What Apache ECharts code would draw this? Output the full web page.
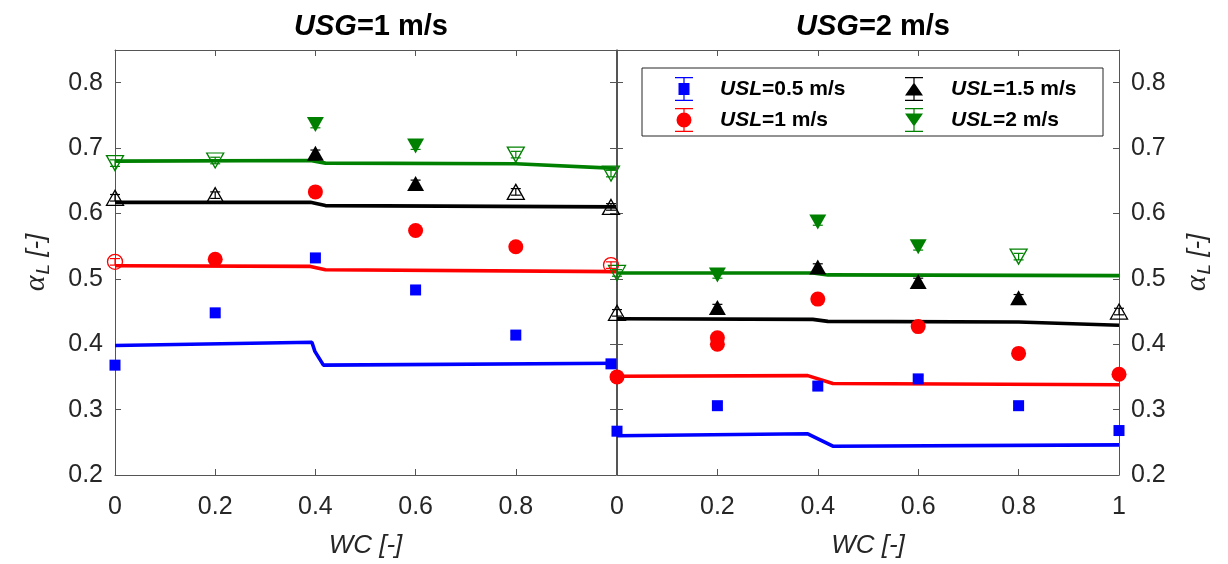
<!DOCTYPE html>
<html>
<head>
<meta charset="utf-8">
<script src="https://cdn.jsdelivr.net/npm/echarts@6/dist/echarts.min.js"></script>
<style>
  html, body { margin: 0; padding: 0; background: #fff; }
  #chart { width: 1228px; height: 564px; }
</style>
</head>
<body>
<div id="chart"></div>
<script>
// Liquid holdup alpha_L versus water cut WC, two superficial gas velocities.

// Measured water cuts (left panel: last run at WC = 0.99)
const WC_G1 = [0, 0.2, 0.4, 0.6, 0.8, 0.99];
const WC_G2 = [0, 0.2, 0.4, 0.6, 0.8, 1];

// USG = 1 m/s, measured holdup
const g1_usl05 = [0.368, 0.448, 0.532, 0.483, 0.414, 0.370];
const g1_usl1  = [0.526, 0.530, 0.633, 0.574, 0.549, 0.521];
const g1_usl15 = [0.624, 0.628, 0.692, 0.646, 0.633, 0.610];
const g1_usl2  = [0.677, 0.681, 0.736, 0.703, 0.690, 0.661];
// open markers (1 = open symbol)
const g1_open05 = [0, 0, 0, 0, 0, 0];
const g1_open1  = [1, 0, 0, 0, 0, 1];
const g1_open15 = [1, 1, 0, 0, 1, 1];
const g1_open2  = [1, 1, 0, 0, 1, 1];

// USG = 2 m/s, measured holdup
const g2_usl05 = [0.267, 0.306, 0.336, 0.347, 0.306, 0.268];
const g2_usl1  = [0.350, 0.410, 0.469, 0.427, 0.386, 0.354];
const g2_usl15 = [0.448, 0.456, 0.518, 0.496, 0.471, 0.450];
const g2_usl2  = [0.509, 0.506, 0.587, 0.549, 0.534, null];
const g2_open05 = [0, 0, 0, 0, 0, 0];
const g2_open1  = [0, 0, 0, 0, 0, 0];
const g2_open15 = [1, 0, 0, 0, 0, 1];
const g2_open2  = [1, 0, 0, 0, 1, 0];
// repeated run at USL = 1 m/s, WC = 0.2
const g2_usl1_repeatWC = [0.2];
const g2_usl1_repeat   = [0.400];

// Half-width of the error bars
const ERR = 0.005;

// Model predictions [WC, alpha_L]
const m1_usl05 = [[0, 0.398], [0.393, 0.403], [0.399, 0.389], [0.416, 0.368], [1, 0.371]];
const m1_usl1  = [[0, 0.520], [0.39, 0.519], [0.42, 0.514], [1, 0.511]];
const m1_usl15 = [[0, 0.617], [0.39, 0.617], [0.42, 0.612], [1, 0.610]];
const m1_usl2  = [[0, 0.680], [0.39, 0.681], [0.42, 0.677], [0.8, 0.676], [1, 0.669]];
const m2_usl05 = [[0, 0.260], [0.38, 0.263], [0.43, 0.244], [1, 0.246]];
const m2_usl1  = [[0, 0.351], [0.38, 0.352], [0.43, 0.340], [1, 0.338]];
const m2_usl15 = [[0, 0.439], [0.39, 0.438], [0.42, 0.435], [0.8, 0.434], [1, 0.429]];
const m2_usl2  = [[0, 0.509], [0.39, 0.509], [0.42, 0.506], [1, 0.505]];

// Axis ranges and tick labels
const X_MIN = 0, X_MAX = 1, X_STEP = 0.2;
const Y_MIN = 0.2, Y_MAX = 0.85, Y_STEP = 0.1, Y_LABEL_TOP = 0.8;

const titles = ['=1 m/s', '=2 m/s'];
const legendNames = ['USL=0.5 m/s', 'USL=1 m/s', 'USL=1.5 m/s', 'USL=2 m/s'];

const BLUE = '#0000ff', RED = '#ff0000', BLACK = '#000000', GREEN = '#008000';
const SANS = '"Liberation Sans", Arial, sans-serif';
const TXT = '#262626';
const AX = '#555555';

// Legend icons: marker with an error bar, drawn in an 18 x 24 box
const CAPS = 'M0,0H18V1.3H0Z M8.4,0H9.6V24H8.4Z M0,22.7H18V24H0Z ';
const ICON_SQUARE = 'path://' + CAPS + 'M3.5,6H14.5V18H3.5Z';
const ICON_CIRCLE = 'path://' + CAPS + 'M1.5,12A7.5,7.5,0,1,1,16.5,12A7.5,7.5,0,1,1,1.5,12Z';
const ICON_UP = 'path://' + CAPS + 'M9,5.5L18,18.5L0,18.5Z';
const ICON_DOWN = 'path://' + CAPS + 'M0,5.5L18,5.5L9,18.5Z';

function points(xs, ys, open, wantOpen) {
  const out = [];
  xs.forEach((x, i) => {
    if (ys[i] == null) return;
    if (!!open[i] !== wantOpen) return;
    out.push([x, ys[i]]);
  });
  return out;
}

function errorBarItem(params, api) {
  const x = api.value(0), y = api.value(1), e = api.value(2);
  const top = api.coord([x, y + e]);
  const bot = api.coord([x, y - e]);
  const hw = 5;
  const style = { stroke: api.visual('color'), lineWidth: 1.2 };
  return {
    type: 'group',
    children: [
      { type: 'line', shape: { x1: top[0], y1: top[1], x2: bot[0], y2: bot[1] }, style: style },
      { type: 'line', shape: { x1: top[0] - hw, y1: top[1], x2: top[0] + hw, y2: top[1] }, style: style },
      { type: 'line', shape: { x1: bot[0] - hw, y1: bot[1], x2: bot[0] + hw, y2: bot[1] }, style: style }
    ]
  };
}

const series = [];

function addGroup(panel, name, color, symbol, size, rotate, xs, ys, open, model, extraX, extraY) {
  const xi = panel * 2, yi = panel * 2;
  series.push({
    type: 'line', name: 'model ' + name + ' ' + panel, xAxisIndex: xi, yAxisIndex: yi,
    data: model, showSymbol: false, symbol: 'none', smooth: false, z: 2, silent: true,
    lineStyle: { color: color, width: 3.6 }, itemStyle: { color: color }
  });
  let filled = points(xs, ys, open, false);
  if (extraX) extraX.forEach((x, i) => filled.push([x, extraY[i]]));
  series.push({
    type: 'scatter', name: name, xAxisIndex: xi, yAxisIndex: yi, data: filled,
    symbol: symbol, symbolSize: size, symbolRotate: rotate, clip: false, z: 4, silent: true,
    itemStyle: { color: color, opacity: 1 }
  });
  series.push({
    type: 'scatter', name: 'open ' + name + ' ' + panel, xAxisIndex: xi, yAxisIndex: yi,
    data: points(xs, ys, open, true),
    symbol: symbol, symbolSize: size, symbolRotate: rotate, clip: false, z: 4, silent: true,
    itemStyle: { color: 'rgba(255,255,255,0)', borderColor: color, borderWidth: 1.3, opacity: 1 }
  });
  const eb = [];
  xs.forEach((x, i) => { if (ys[i] != null) eb.push([x, ys[i], ERR]); });
  if (extraX) extraX.forEach((x, i) => eb.push([x, extraY[i], ERR]));
  series.push({
    type: 'custom', name: 'err ' + name + ' ' + panel, xAxisIndex: xi, yAxisIndex: yi,
    data: eb, renderItem: errorBarItem, clip: false, z: 5, silent: true,
    itemStyle: { color: color }, encode: { x: 0, y: 1 }
  });
}

// USG = 1 m/s
addGroup(0, legendNames[0], BLUE, 'rect', [11, 11], 0, WC_G1, g1_usl05, g1_open05, m1_usl05);
addGroup(0, legendNames[1], RED, 'circle', 15, 0, WC_G1, g1_usl1, g1_open1, m1_usl1);
addGroup(0, legendNames[2], BLACK, 'triangle', [17, 15], 0, WC_G1, g1_usl15, g1_open15, m1_usl15);
addGroup(0, legendNames[3], GREEN, 'triangle', [17, 15], 180, WC_G1, g1_usl2, g1_open2, m1_usl2);
// USG = 2 m/s
addGroup(1, legendNames[0], BLUE, 'rect', [11, 11], 0, WC_G2, g2_usl05, g2_open05, m2_usl05);
addGroup(1, legendNames[1], RED, 'circle', 15, 0, WC_G2, g2_usl1, g2_open1, m2_usl1, g2_usl1_repeatWC, g2_usl1_repeat);
addGroup(1, legendNames[2], BLACK, 'triangle', [17, 15], 0, WC_G2, g2_usl15, g2_open15, m2_usl15);
addGroup(1, legendNames[3], GREEN, 'triangle', [17, 15], 180, WC_G2, g2_usl2, g2_open2, m2_usl2);

const tickLabel = { fontFamily: SANS, fontSize: 25, color: TXT };

function xAxes(grid, hideLast) {
  return [
    {
      gridIndex: grid, type: 'value', min: X_MIN, max: X_MAX, interval: X_STEP, position: 'bottom',
      axisLine: { show: true, onZero: false, lineStyle: { color: AX, width: 1 } },
      axisTick: { show: true, inside: true, length: 6, lineStyle: { color: AX } },
      splitLine: { show: false },
      axisLabel: Object.assign({ margin: 20, showMaxLabel: true,
        formatter: v => (hideLast && v >= X_MAX - 1e-9) ? '' : String(+v.toFixed(1)) }, tickLabel),
      name: 'WC [-]', nameLocation: 'middle', nameGap: 58,
      nameTextStyle: { fontFamily: SANS, fontStyle: 'italic', fontSize: 26, color: TXT }
    },
    {
      gridIndex: grid, type: 'value', min: X_MIN, max: X_MAX, interval: X_STEP, position: 'top',
      axisLine: { show: true, onZero: false, lineStyle: { color: AX, width: 1 } },
      axisTick: { show: true, inside: true, length: 6, lineStyle: { color: AX } },
      splitLine: { show: false }, axisLabel: { show: false }
    }
  ];
}

const yName = '{a|α}{s|L}{b| [-]}';
const yNameStyle = {
  color: TXT,
  rich: {
    a: { fontFamily: '"Liberation Serif", serif', fontStyle: 'italic', fontSize: 30, color: TXT },
    s: { fontFamily: SANS, fontStyle: 'italic', fontSize: 19, color: TXT, padding: [14, 0, 0, 1] },
    b: { fontFamily: SANS, fontStyle: 'italic', fontSize: 26, color: TXT }
  }
};

function yAxis(grid, pos, labelled) {
  const ax = {
    gridIndex: grid, type: 'value', min: Y_MIN, max: Y_MAX, interval: Y_STEP, position: pos,
    axisLine: { show: true, onZero: false, lineStyle: { color: AX, width: 1 } },
    axisTick: { show: true, inside: true, length: 6, lineStyle: { color: AX } },
    splitLine: { show: false },
    axisLabel: labelled ? Object.assign({ margin: 12,
      formatter: v => v > Y_LABEL_TOP + 1e-9 ? '' : (+v).toFixed(1) }, tickLabel) : { show: false }
  };
  if (labelled) {
    Object.assign(ax, { name: yName, nameLocation: 'middle', nameRotate: 90, nameGap: 62, nameTextStyle: yNameStyle });
  }
  return ax;
}

const legendRich = {
  i: { fontFamily: SANS, fontStyle: 'italic', fontWeight: 'bold', fontSize: 21, color: '#000' },
  n: { fontFamily: SANS, fontWeight: 'bold', fontSize: 21, color: '#000' }
};
function legendFmt() {
  return name => '{p|}{i|' + name.slice(0, 3) + '}{n|' + name.slice(3) + '}';
}
function legendBlock(left, items, pad) {
  return {
    orient: 'vertical', left: left, top: 77, itemWidth: 18, itemHeight: 24, itemGap: 7,
    selectedMode: false, padding: 0,
    data: items,
    formatter: legendFmt(),
    textStyle: { rich: Object.assign({ p: { width: pad } }, legendRich) }
  };
}

const titleRich = {
  i: { fontFamily: SANS, fontStyle: 'italic', fontWeight: 'bold', fontSize: 29, color: '#000' },
  n: { fontFamily: SANS, fontWeight: 'bold', fontSize: 29, color: '#000' }
};

const option = {
  animation: false,
  backgroundColor: '#fff',
  title: [
    { text: '{i|USG}{n|' + titles[0] + '}', left: 366, top: 7, textAlign: 'center', textStyle: { rich: titleRich } },
    { text: '{i|USG}{n|' + titles[1] + '}', left: 868, top: 7, textAlign: 'center', textStyle: { rich: titleRich } }
  ],
  grid: [
    { left: 115, top: 50, width: 501, height: 426 },
    { left: 617, top: 50, width: 502, height: 426 }
  ],
  xAxis: xAxes(0, true).concat(xAxes(1, false)),
  yAxis: [yAxis(0, 'left', true), yAxis(0, 'right', false), yAxis(1, 'left', false), yAxis(1, 'right', true)],
  legend: [
    legendBlock(675, [
      { name: legendNames[0], icon: ICON_SQUARE, itemStyle: { color: BLUE } },
      { name: legendNames[1], icon: ICON_CIRCLE, itemStyle: { color: RED } }
    ], 22),
    legendBlock(905, [
      { name: legendNames[2], icon: ICON_UP, itemStyle: { color: BLACK } },
      { name: legendNames[3], icon: ICON_DOWN, itemStyle: { color: GREEN } }
    ], 23)
  ],
  graphic: [{
    type: 'rect', z: 3, silent: true,
    shape: { x: 642, y: 68, width: 461, height: 68 },
    style: { fill: '#fff', stroke: '#262626', lineWidth: 1 }
  }],
  series: series
};

const chart = echarts.init(document.getElementById('chart'), null, { renderer: 'canvas' });
chart.setOption(option);
</script>
</body>
</html>
